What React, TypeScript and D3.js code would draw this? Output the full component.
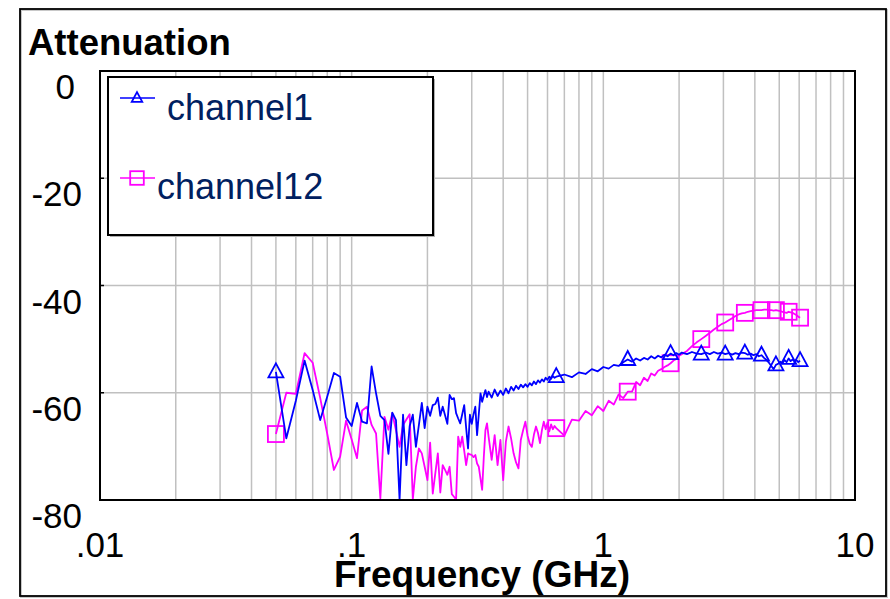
import * as d3 from 'd3';

const width = 890;
const height = 599;
const PLOT = { left: 100, right: 855, top: 71, bottom: 500 };
const FONT = 'Liberation Sans, Arial, sans-serif';

// frequency grid in GHz (shared by both channels)
const freqGHz = [
  0.05, 0.055, 0.06, 0.065, 0.07, 0.075, 0.08, 0.085, 0.09, 0.095,
  0.1, 0.105, 0.11, 0.115, 0.12, 0.125, 0.13, 0.135, 0.14, 0.145,
  0.15, 0.155, 0.16, 0.165, 0.17, 0.175, 0.18, 0.185, 0.19, 0.195,
  0.2, 0.205, 0.21, 0.215, 0.22, 0.225, 0.23, 0.235, 0.24, 0.245,
  0.25, 0.255, 0.26, 0.265, 0.27, 0.275, 0.28, 0.285, 0.29, 0.295,
  0.3, 0.305, 0.31, 0.315, 0.32, 0.325, 0.33, 0.335, 0.34, 0.345,
  0.35, 0.36, 0.37, 0.38, 0.39, 0.4, 0.41, 0.42, 0.43, 0.44,
  0.45, 0.46, 0.47, 0.48, 0.49, 0.5, 0.51, 0.52, 0.53, 0.54,
  0.55, 0.56, 0.57, 0.58, 0.59, 0.6, 0.61, 0.62, 0.63, 0.64,
  0.65, 0.7, 0.75, 0.8, 0.85, 0.9, 0.95, 1.0, 1.05, 1.1,
  1.15, 1.2, 1.25, 1.3, 1.35, 1.4, 1.45, 1.5, 1.55, 1.6,
  1.65, 1.7, 1.75, 1.8, 1.85, 1.9, 1.95, 2.0,
  2.05, 2.15, 2.25, 2.35, 2.45, 2.55, 2.65, 2.75, 2.85, 2.95,
  3.05, 3.15, 3.25, 3.35, 3.45, 3.55, 3.65, 3.75, 3.85, 3.95,
  4.05, 4.15, 4.25, 4.35, 4.45, 4.55, 4.65, 4.75, 4.85, 4.95,
  5.05, 5.15, 5.25, 5.35, 5.45, 5.55, 5.65, 5.75, 5.85, 5.95,
  6.05,
];

// attenuation in dB
const channel1 = [
  -56.1, -68.5, -61.5, -54.0, -59.5, -65.1, -60.7, -56.3, -57.0, -64.6,
  -66.2, -61.9, -65.4, -65.7, -55.1, -60.1, -64.3, -65.1, -71.4, -63.7,
  -65.1, -80.0, -64.1, -73.5, -66.2, -64.1, -70.1, -66.0, -61.9, -66.6,
  -62.6, -64.3, -62.3, -62.1, -60.9, -64.3, -62.6, -64.2, -65.8, -60.4,
  -61.2, -61.0, -63.8, -64.8, -65.7, -64.0, -62.3, -66.5, -70.4, -64.1,
  -65.8, -64.0, -62.6, -67.9, -64.0, -60.1, -61.7, -60.5, -59.5, -60.8,
  -59.8, -60.9, -59.4, -60.6, -59.6, -60.4, -59.2, -60.1, -58.9, -59.6,
  -58.7, -59.3, -58.5, -59.0, -58.4, -58.9, -58.2, -58.6, -57.9, -58.4,
  -57.7, -58.1, -57.5, -57.9, -57.2, -57.6, -57.0, -57.4, -56.9, -57.2,
  -57.0, -56.6, -57.1, -56.2, -56.5, -55.6, -56.0, -55.2, -55.5, -54.8,
  -55.0, -54.3, -53.8, -54.2, -53.6, -54.0, -53.5, -53.8, -53.2, -53.6,
  -53.1, -53.4, -52.9, -53.2, -52.7, -53.0, -52.6, -52.9,
  -52.5, -52.8, -52.4, -52.7, -52.8, -52.5, -52.8, -52.4, -52.7, -52.5,
  -52.8, -52.6, -52.9, -52.6, -52.8, -52.5, -52.6, -52.9, -52.7, -53.0,
  -52.8, -53.2, -53.0, -53.5, -53.9, -54.4, -55.0, -55.6, -54.8, -54.6,
  -54.2, -54.5, -53.9, -54.3, -53.6, -54.1, -53.8, -54.2, -53.9, -54.3,
  -54.0,
];

const channel12 = [
  -67.7, -60.0, -60.2, -52.6, -54.4, -61.0, -67.7, -74.4, -71.9, -65.2,
  -68.7, -72.2, -63.3, -62.6, -66.0, -67.6, -79.7, -64.5, -66.9, -63.8,
  -67.0, -70.1, -66.0, -65.0, -64.0, -79.9, -73.8, -70.4, -71.3, -73.8,
  -76.3, -69.3, -78.8, -75.0, -71.3, -78.6, -73.5, -74.4, -75.3, -73.8,
  -78.9, -79.4, -79.9, -68.2, -70.1, -68.2, -70.8, -73.5, -71.3, -71.5,
  -71.6, -72.0, -71.6, -73.2, -73.8, -76.0, -78.1, -72.0, -67.0, -65.7,
  -68.2, -72.5, -67.9, -73.5, -68.8, -76.3, -69.1, -66.3, -68.5, -71.3,
  -73.0, -74.1, -68.8, -67.0, -65.4, -68.0, -69.5, -70.1, -67.8, -66.3,
  -67.5, -69.4, -67.0, -65.4, -66.8, -65.6, -67.2, -65.9, -66.8, -66.2,
  -66.6, -68.0, -65.0, -65.2, -63.4, -64.2, -62.5, -63.4, -61.5, -62.2,
  -60.3, -61.0, -59.8, -59.8, -58.0, -58.6, -57.2, -57.8, -56.4, -56.8,
  -55.9, -55.6, -55.2, -54.9, -54.5, -54.0, -53.7, -53.1,
  -52.8, -52.2, -51.3, -50.6, -50.0, -49.4, -48.8, -48.2, -47.7, -47.2,
  -46.9, -46.5, -46.1, -45.7, -45.4, -45.2, -45.1, -44.9, -44.8, -44.7,
  -44.6, -44.6, -44.6, -44.5, -44.5, -44.6, -44.6, -44.7, -44.6, -44.7,
  -44.8, -44.9, -45.0, -45.1, -44.9, -45.0, -45.1, -45.3, -45.5, -45.8,
  -46.0,
];

const markerFreqs = [0.05, 0.65, 1.25, 1.85, 2.45, 3.05, 3.65, 4.25, 4.85, 5.45, 6.05];
const yTicks = [0, -20, -40, -60, -80];
const xTickLabels = [
  { v: 0.01, label: '.01' },
  { v: 0.1, label: '.1' },
  { v: 1, label: '1' },
  { v: 10, label: '10' },
];

const series = [
  { name: 'channel12', values: channel12, color: '#ff00ff', marker: 'square' },
  { name: 'channel1', values: channel1, color: '#0000ff', marker: 'triangle' },
];

const Marker = ({ type, x, y, color, s = 1 }) =>
  type === 'square' ? (
    <rect x={x - 8 * s} y={y - 8 * s} width={16 * s} height={16 * s} fill="none" stroke={color} strokeWidth={1.8} />
  ) : (
    <path
      d={`M${x},${y - 8.5 * s} L${x + 7.5 * s},${y + 5.5 * s} L${x - 7.5 * s},${y + 5.5 * s} Z`}
      fill="none"
      stroke={color}
      strokeWidth={1.8}
    />
  );

export default function App() {
  const xScale = d3.scaleLog().domain([0.01, 10]).range([PLOT.left, PLOT.right]);
  const yScale = d3.scaleLinear().domain([-80, 0]).range([PLOT.bottom, PLOT.top]);

  const line = d3
    .line<number>()
    .x((_, i) => xScale(freqGHz[i]))
    .y((d) => yScale(d));

  const markerIdx = markerFreqs.map((f) => d3.minIndex(freqGHz, (g) => Math.abs(g - f)));

  const xGrid = xScale.ticks().filter((t) => t > 0.01 && t < 10);

  return (
    <svg width={width} height={height} style={{ position: 'absolute', left: 0, top: 0, display: 'block' }}>
      <rect x={0} y={0} width={width} height={height} fill="white" />
      {/* outer frame */}
      <rect x={21} y={10} width={866} height={587} fill="none" stroke="#c8c8c8" strokeWidth={2} />
      <rect x={20} y={9} width={866} height={587} fill="none" stroke="black" strokeWidth={1.8} />

      <text x={28} y={55} fontFamily={FONT} fontWeight="bold" fontSize={36.5}>
        Attenuation
      </text>

      <defs>
        <clipPath id="plotClip">
          <rect x={PLOT.left} y={PLOT.top} width={PLOT.right - PLOT.left} height={PLOT.bottom - PLOT.top} />
        </clipPath>
      </defs>

      {/* grid */}
      {xGrid.map((t, i) => (
        <line key={'gx' + i} x1={xScale(t)} x2={xScale(t)} y1={PLOT.top} y2={PLOT.bottom} stroke="#c0c0c0" strokeWidth={1.5} />
      ))}
      {[-20, -40, -60].map((v) => (
        <g key={'gy' + v}>
          <line x1={PLOT.left} x2={PLOT.right} y1={yScale(v)} y2={yScale(v)} stroke="#c0c0c0" strokeWidth={1.5} />
          <line x1={PLOT.left} x2={PLOT.left + 4} y1={yScale(v)} y2={yScale(v)} stroke="black" strokeWidth={1.5} />
        </g>
      ))}

      {/* data */}
      <g clipPath="url(#plotClip)">
        {series.map((s) => (
          <g key={s.name}>
            <path d={line(s.values) ?? ''} fill="none" stroke={s.color} strokeWidth={1.8} strokeLinejoin="round" />
            {markerIdx.map((i) => (
              <Marker key={i} type={s.marker} x={xScale(freqGHz[i])} y={yScale(s.values[i])} color={s.color} />
            ))}
          </g>
        ))}
      </g>

      {/* plot frame */}
      <rect x={PLOT.left} y={PLOT.top} width={PLOT.right - PLOT.left} height={PLOT.bottom - PLOT.top} fill="none" stroke="black" strokeWidth={2} />

      {/* y labels */}
      {yTicks.map((v) => (
        <text key={'yl' + v} x={v === 0 ? 75 : 82} y={yScale(v) + 28} textAnchor="end" fontFamily={FONT} fontSize={35}>
          {v}
        </text>
      ))}

      {/* x labels */}
      {xTickLabels.map((t) => (
        <text key={'xl' + t.v} x={xScale(t.v)} y={557} textAnchor="middle" fontFamily={FONT} fontSize={35}>
          {t.label}
        </text>
      ))}
      <text x={482} y={587} textAnchor="middle" fontFamily={FONT} fontWeight="bold" fontSize={37}>
        Frequency (GHz)
      </text>

      {/* legend */}
      <rect x={110} y={79} width={325} height={158} fill="#b0b0b0" />
      <rect x={108} y={77} width={325} height={158} fill="white" stroke="black" strokeWidth={2} />
      <line x1={120} x2={155} y1={98} y2={98} stroke="#0000ff" strokeWidth={1.6} />
      <Marker type="triangle" x={137} y={98} color="#0000ff" s={0.7} />
      <text x={167} y={120} fontFamily={FONT} fontSize={36} fill="#002060">
        channel1
      </text>
      <line x1={120} x2={155} y1={178} y2={178} stroke="#ff00ff" strokeWidth={1.6} />
      <Marker type="square" x={137} y={178} color="#ff00ff" s={0.85} />
      <text x={157} y={199} fontFamily={FONT} fontSize={36} fill="#002060">
        channel12
      </text>
    </svg>
  );
}
